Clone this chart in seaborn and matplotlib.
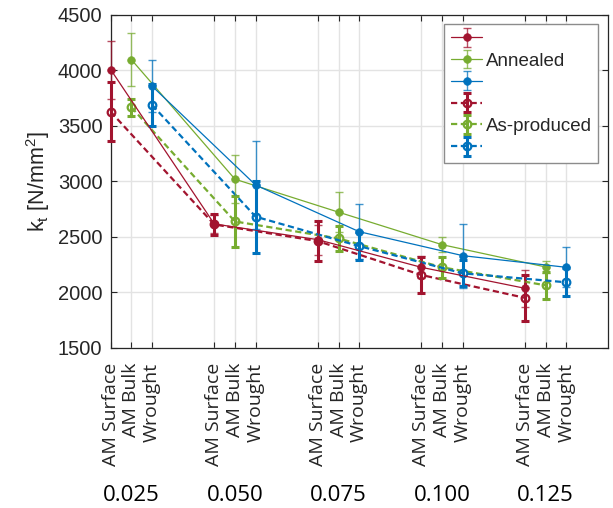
import numpy as np
import matplotlib
matplotlib.use("Agg")
import matplotlib.pyplot as plt
import matplotlib.transforms as mtransforms
from matplotlib.container import ErrorbarContainer
import seaborn as sns

# strain rates (groups) and materials inside each group
groups = ["0.025", "0.050", "0.075", "0.100", "0.125"]
materials = ["AM Surface", "AM Bulk", "Wrought"]
colors = ["#A2142F", "#77AC30", "#0072BD"]

# k_t [N/mm^2], annealed
annealed = {
    "AM Surface": [4005, 2615, 2473, 2224, 2035],
    "AM Bulk": [4095, 3018, 2721, 2428, 2227],
    "Wrought": [3856, 2965, 2545, 2329, 2224],
}
annealed_err = {
    "AM Surface": [262, 80, 135, 100, 168],
    "AM Bulk": [237, 218, 180, 70, 50],
    "Wrought": [234, 396, 248, 287, 179],
}
# k_t [N/mm^2], as-produced
as_produced = {
    "AM Surface": [3625, 2610, 2460, 2155, 1949],
    "AM Bulk": [3665, 2637, 2484, 2224, 2062],
    "Wrought": [3686, 2680, 2415, 2170, 2089],
}
as_produced_err = {
    "AM Surface": [265, 91, 183, 166, 207],
    "AM Bulk": [75, 228, 116, 92, 120],
    "Wrought": [189, 325, 124, 117, 127],
}

sns.set_style("ticks")
plt.rcParams["font.family"] = ["Liberation Sans", "DejaVu Sans"]
plt.rcParams["mathtext.fontset"] = "custom"
plt.rcParams["mathtext.rm"] = "Liberation Sans"

fig = plt.figure(figsize=(6.13, 5.08), dpi=100)
ax = fig.add_axes([0.1806, 0.3156, 0.8108, 0.6555])

group_start = 1 + 5 * np.arange(len(groups))


def draw(values, errs, dashed):
    handles = []
    for j, (mat, c) in enumerate(zip(materials, colors)):
        x = group_start + j
        if dashed:
            sns.lineplot(x=x, y=values[mat], ax=ax, color=c, linewidth=1.6,
                         linestyle=(0, (2.8, 1.6)), marker="o", markersize=5.5,
                         markerfacecolor="none", markeredgecolor=c,
                         markeredgewidth=1.6, errorbar=None, zorder=3,
                         clip_on=False)
            eb = ax.errorbar(x, values[mat], yerr=errs[mat], fmt="none", ecolor=c,
                             elinewidth=2.2, capsize=3, capthick=2.2, zorder=3,
                             clip_on=False)
        else:
            sns.lineplot(x=x, y=values[mat], ax=ax, color=c, linewidth=0.9,
                         marker="o", markersize=5.5, markerfacecolor=c,
                         markeredgecolor=c, markeredgewidth=0.5,
                         errorbar=None, zorder=4, clip_on=False)
            eb = ax.errorbar(x, values[mat], yerr=errs[mat], fmt="none", ecolor=c,
                             elinewidth=1.0, capsize=3, capthick=1.0, alpha=0.75,
                             zorder=4, clip_on=False)
        line = [l for l in ax.lines if l not in eb[1]][-1]
        handles.append(ErrorbarContainer((line, eb[1], eb[2]), has_xerr=False, has_yerr=True))
    return handles


h_ann = draw(annealed, annealed_err, dashed=False)
h_ap = draw(as_produced, as_produced_err, dashed=True)

ax.set_xlim(1, 25)
ax.set_ylim(1500, 4500)
ax.set_yticks(np.arange(1500, 4501, 500))
ticks = np.concatenate([g + np.arange(3) for g in group_start])
ax.set_xticks(ticks)
ax.set_xticklabels(materials * len(groups), rotation=90, family="Open Sans",
                   fontsize=14)
ax.tick_params(axis="x", direction="in", top=True, length=4.5, width=0.8,
               pad=11, colors="#262626")
ax.tick_params(axis="y", direction="in", right=True, length=4.5, width=0.8,
               pad=6, labelsize=14.5, colors="#262626")
ax.grid(True, color="#e3e3e3", linewidth=1.0)
ax.set_axisbelow(True)
for s in ax.spines.values():
    s.set_color("#262626")
    s.set_linewidth(0.9)

ax.set_ylabel(r"k$_\mathregular{t}$ [N/mm$^\mathregular{2}$]", fontsize=15.5,
              color="#262626", labelpad=4)

trans = mtransforms.blended_transform_factory(ax.transData, ax.transAxes)
for g, lab in zip(group_start, groups):
    ax.text(g + 1, -0.445, lab, transform=trans, ha="center", va="center",
            family="Open Sans", fontsize=16, color="black")

ax.legend(h_ann + h_ap, ["", "Annealed", "", "", "As-produced", ""],
          loc="upper right", bbox_to_anchor=(0.981, 0.972), borderaxespad=0,
          fontsize=13.5, fancybox=False, framealpha=1, edgecolor="#8c8c8c",
          handlelength=1.65, handletextpad=0.2, labelspacing=0.25,
          borderpad=0.35)

fig.savefig("out.png", dpi=100)
